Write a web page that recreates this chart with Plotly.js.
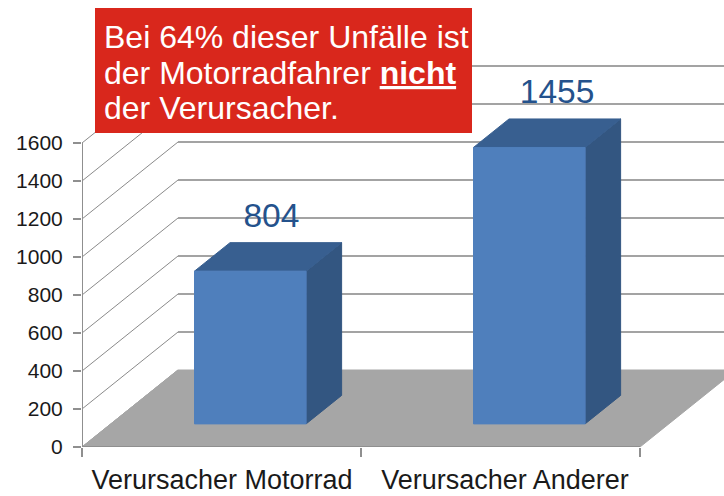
<!DOCTYPE html>
<html>
<head>
<meta charset="utf-8">
<script src="https://cdn.plot.ly/plotly-3.0.1.min.js"></script>
<style>html,body{margin:0;padding:0;background:#fff}#c{width:724px;height:496px}</style>
</head>
<body>
<div id="c"></div>
<script>
const categories = ["Verursacher Motorrad", "Verursacher Anderer"];
const values = [804, 1455];
const yTicks = [0, 200, 400, 600, 800, 1000, 1200, 1400, 1600];
const calloutLines = ['Bei 64% dieser Unfälle ist', 'der Motorradfahrer <b><u>nicht</u></b>', 'der Verursacher.'];

const W = 724, H = 496, L = 82, B = 447;
const pxPerCat = 279, pxPerVal = 0.19;
const depthX = 96 / pxPerCat, depthY = 77 / pxPerVal;
const xMax = (W - L) / pxPerCat, yMax = B / pxPerVal;
const n = categories.length, yTop = yTicks[yTicks.length - 1];
const halfW = 0.2, dFront = 0.3, dBack = 0.67;

const P = (x, v, d) => [x + d * depthX, v + d * depthY];
function poly(pts, color) {
  const q = pts.map(p => P(p[0], p[1], p[2]));
  q.push(q[0]);
  return {x: q.map(a => a[0]), y: q.map(a => a[1]), mode: 'lines', fill: 'toself',
    fillcolor: color, line: {color: color, width: 1}, hoverinfo: 'skip', cliponaxis: false};
}
function line(a, b, color, width) {
  const p = P(a[0], a[1], a[2]), q = P(b[0], b[1], b[2]);
  return {x: [p[0], q[0]], y: [p[1], q[1]], mode: 'lines', line: {color, width}, hoverinfo: 'skip', cliponaxis: false};
}

const traces = [];
yTicks.forEach(v => {
  traces.push(line([0, v, 0], [0, v, 1], '#8a8a8a', 1));
  if (v > 0) traces.push(line([0, v, 1], [n + 1, v, 1], '#a3a3a3', 2));
});
traces.push(poly([[0,0,0],[n,0,0],[n,0,1],[0,0,1]], '#a6a6a6'));
values.forEach((v, i) => {
  const c = i + 0.5, a = c - halfW, b = c + halfW;
  traces.push(poly([[b,0,dFront],[b,0,dBack],[b,v,dBack],[b,v,dFront]], '#335681'));
  traces.push(poly([[a,v,dFront],[b,v,dFront],[b,v,dBack],[a,v,dBack]], '#385f90'));
  traces.push(poly([[a,0,dFront],[b,0,dFront],[b,v,dFront],[a,v,dFront]], '#4f7fbc'));
});
traces.push(line([0,0,0],[n,0,0], '#8f8f8f', 2));
traces.push(line([0,0,0],[0,yTop,0], '#8f8f8f', 2));
const lab = values.map((v, i) => P(i + 0.5 + i * 0.024, v + 100, 0.52));
traces.push({x: lab.map(a => a[0]), y: lab.map(a => a[1]), text: values.map(String),
  mode: 'text', textposition: 'top center', cliponaxis: false, hoverinfo: 'skip',
  textfont: {family: 'Liberation Sans', size: 33.5, color: '#24528c'}});

const lineCenters = [37, 73, 108];
const layout = {
  width: W, height: H, showlegend: false,
  margin: {l: L, r: 0, t: 0, b: H - B, pad: 0},
  paper_bgcolor: '#fff', plot_bgcolor: '#fff',
  font: {family: 'Liberation Sans', color: '#1a1a1a'},
  xaxis: {range: [0, xMax], tickmode: 'array', tickvals: [0.502, 1.516],
    ticktext: categories, ticks: '', showgrid: false, zeroline: false, showline: false,
    tickfont: {size: 27, color: '#1a1a1a'}, ticklabelstandoff: 14,
    minor: {tickmode: 'array', tickvals: [0, 1, 2], ticks: 'outside', ticklen: 9, tickwidth: 2, tickcolor: '#8f8f8f', showgrid: false}},
  yaxis: {range: [0, yMax], tickmode: 'array', tickvals: yTicks, ticktext: yTicks.map(String),
    ticks: 'outside', ticklen: 8, tickwidth: 2, tickcolor: '#8f8f8f', showgrid: false, zeroline: false, showline: false,
    tickfont: {size: 21, color: '#1a1a1a'}, ticklabelstandoff: 6},
  shapes: [{type: 'rect', xref: 'paper', yref: 'paper', layer: 'above',
    x0: (95 - L) / (W - L), x1: (472 - L) / (W - L), y0: (B - 8) / B, y1: (B - 133) / B,
    fillcolor: '#d9271c', line: {width: 0}}],
  annotations: calloutLines.map((t, i) => ({xref: 'paper', yref: 'paper', x: (103 - L) / (W - L), y: (B - lineCenters[i]) / B,
    xanchor: 'left', yanchor: 'middle', text: t, showarrow: false, align: 'left', borderpad: 0,
    font: {family: 'Liberation Sans', size: 32, color: '#fff'}}))
};
Plotly.newPlot('c', traces, layout, {displayModeBar: false, staticPlot: true});
</script>
</body>
</html>
